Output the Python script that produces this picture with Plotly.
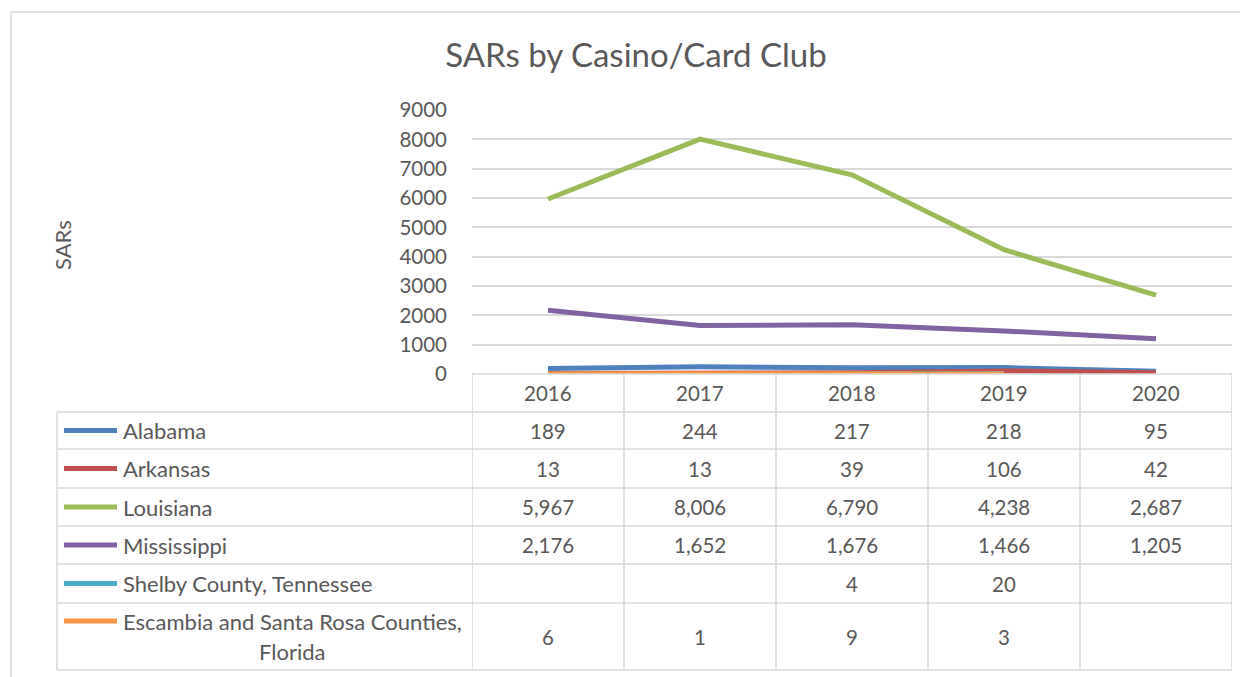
import plotly.graph_objects as go

years = ["2016", "2017", "2018", "2019", "2020"]
series_names = [
    "Alabama",
    "Arkansas",
    "Louisiana",
    "Mississippi",
    "Shelby County, Tennessee",
    "Escambia and Santa Rosa Counties,<br>Florida",
]
alabama = [189, 244, 217, 218, 95]
arkansas = [13, 13, 39, 106, 42]
louisiana = [5967, 8006, 6790, 4238, 2687]
mississippi = [2176, 1652, 1676, 1466, 1205]
shelby = [None, None, 4, 20, None]
escambia = [6, 1, 9, 3, None]
series_values = [alabama, arkansas, louisiana, mississippi, shelby, escambia]
colors = ["#4F81BD", "#C0504D", "#9BBB59", "#8064A2", "#4BACC6", "#F79646"]
y_ticks = [0, 1000, 2000, 3000, 4000, 5000, 6000, 7000, 8000, 9000]

OFF = 8  # page body margin
W, H = 1240, 669
FONT = "Lato"
TXT = "#595959"
GRID = "#D9D9D9"
NUM_SIZE = 20.5
LBL_SIZE = 22


def px(x):
    return (x - OFF) / W


def py(y):
    return 1 - (y - OFF) / H


# geometry (screen pixels)
plot_l, plot_r, plot_t, plot_b = 472, 1232, 110, 374
row_lines = [412, 449, 488, 526, 564, 603, 670]
table_l = 57

fig = go.Figure()
for name, vals, col in zip(series_names, series_values, colors):
    fig.add_trace(go.Scatter(
        x=years, y=vals, mode="lines", name=name.replace("<br>", " "),
        line=dict(color=col, width=5), connectgaps=False, showlegend=False,
        hoverinfo="x+y+name",
    ))

shapes = []
annotations = []

# outer frame
shapes.append(dict(type="line", xref="paper", yref="paper", x0=px(11), x1=1, y0=py(12), y1=py(12),
                   line=dict(color=GRID, width=1.5)))
shapes.append(dict(type="line", xref="paper", yref="paper", x0=px(11), x1=px(11), y0=py(12), y1=0,
                   line=dict(color=GRID, width=1.5)))

# table horizontal lines
for yy in row_lines:
    shapes.append(dict(type="line", xref="paper", yref="paper", x0=px(table_l), x1=px(plot_r),
                       y0=py(yy), y1=py(yy), line=dict(color=GRID, width=1.5)))
# header top line
shapes.append(dict(type="line", xref="paper", yref="paper", x0=px(plot_l), x1=px(plot_r),
                   y0=py(plot_b), y1=py(plot_b), line=dict(color=GRID, width=1.5)))
# table vertical lines at category boundaries
for i in range(len(years) + 1):
    shapes.append(dict(type="line", xref="x", yref="paper", x0=i - 0.5, x1=i - 0.5,
                       y0=py(plot_b), y1=py(row_lines[-1]), line=dict(color=GRID, width=1.5)))
# table left border
shapes.append(dict(type="line", xref="paper", yref="paper", x0=px(table_l), x1=px(table_l),
                   y0=py(row_lines[0]), y1=py(row_lines[-1]), line=dict(color=GRID, width=1.5)))

# header years
for i, yr in enumerate(years):
    annotations.append(dict(x=i, xref="x", y=py((plot_b + row_lines[0]) / 2), yref="paper",
                            text=yr, showarrow=False, font=dict(family=FONT, size=NUM_SIZE, color=TXT),
                            xanchor="center", yanchor="middle"))

# rows
row_bounds = [(row_lines[i], row_lines[i + 1]) for i in range(len(row_lines) - 1)]
for (top, bot), name, vals, col in zip(row_bounds, series_names, series_values, colors):
    mid = (top + bot) / 2
    key_y = mid if "<br>" not in name else top + 18
    shapes.append(dict(type="line", xref="paper", yref="paper", x0=px(64), x1=px(117),
                       y0=py(key_y), y1=py(key_y), line=dict(color=col, width=5)))
    if "<br>" in name:
        first, second = name.split("<br>")
        annotations.append(dict(x=px(121), xref="paper", y=py(top + 18), yref="paper", text=first,
                                showarrow=False, font=dict(family=FONT, size=LBL_SIZE, color=TXT),
                                xanchor="left", yanchor="middle"))
        annotations.append(dict(x=px(292), xref="paper", y=py(top + 48), yref="paper", text=second,
                                showarrow=False, font=dict(family=FONT, size=LBL_SIZE, color=TXT),
                                xanchor="center", yanchor="middle"))
    else:
        annotations.append(dict(x=px(121), xref="paper", y=py(mid), yref="paper", text=name,
                                showarrow=False, font=dict(family=FONT, size=LBL_SIZE, color=TXT),
                                xanchor="left", yanchor="middle"))
    for i, v in enumerate(vals):
        if v is None:
            continue
        annotations.append(dict(x=i, xref="x", y=py(mid), yref="paper", text=f"{v:,}",
                                showarrow=False, font=dict(family=FONT, size=NUM_SIZE, color=TXT),
                                xanchor="center", yanchor="middle"))

# y axis title
annotations.append(dict(x=px(62), xref="paper", y=py(245), yref="paper", text="SARs", textangle=-90,
                        showarrow=False, font=dict(family=FONT, size=LBL_SIZE, color=TXT),
                        xanchor="center", yanchor="middle"))

fig.update_layout(
    width=W, height=H,
    margin=dict(l=0, r=0, t=0, b=0, pad=0, autoexpand=False),
    paper_bgcolor="white", plot_bgcolor="white",
    title=dict(text="SARs by Casino/Card Club", x=px(636), xanchor="center", y=py(55), yanchor="middle",
               font=dict(family=FONT, size=33, color=TXT), automargin=False),
    xaxis=dict(domain=[px(plot_l), px(plot_r)], type="category", range=[-0.5, len(years) - 0.5],
               showticklabels=False, showgrid=False, zeroline=False, showline=False, ticks="",
               automargin=False),
    yaxis=dict(domain=[py(plot_b), py(plot_t)], range=[0, 9000], tickvals=y_ticks,
               showgrid=True, gridcolor=GRID, gridwidth=1.5, zeroline=False, showline=False,
               tickfont=dict(family=FONT, size=NUM_SIZE, color=TXT), ticklabelstandoff=24,
               automargin=False),
    shapes=shapes,
    annotations=annotations,
)

fig.write_html("out.html")
